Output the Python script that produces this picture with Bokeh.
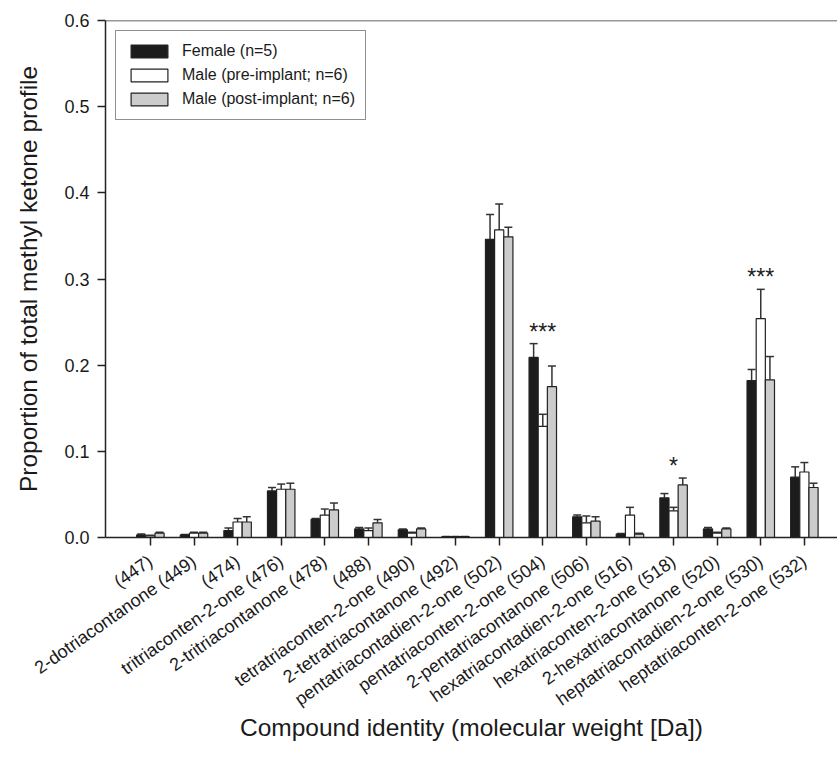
import math
from bokeh.plotting import figure
from bokeh.models import (ColumnDataSource, Whisker, TeeHead, FixedTicker, Span,
                          PrintfTickFormatter)
from bokeh.core.properties import value
from bokeh.embed import file_html
from bokeh.resources import INLINE

compounds = ["(447)", "2-dotriacontanone (449)", "(474)", "tritriaconten-2-one (476)",
             "2-tritriacontanone (478)", "(488)", "tetratriaconten-2-one (490)",
             "2-tetratriacontanone (492)", "pentatriacontadien-2-one (502)",
             "pentatriaconten-2-one (504)", "2-pentatriacontanone (506)",
             "hexatriacontadien-2-one (516)", "hexatriaconten-2-one (518)",
             "2-hexatriacontanone (520)", "heptatriacontadien-2-one (530)",
             "heptatriaconten-2-one (532)"]

female_mean = [0.003, 0.003, 0.008, 0.054, 0.021, 0.010, 0.009, 0.001,
               0.346, 0.209, 0.024, 0.004, 0.046, 0.010, 0.182, 0.070]
female_se = [0.001, 0.0005, 0.003, 0.004, 0.001, 0.0015, 0.001, 0.0003,
             0.029, 0.016, 0.002, 0.0005, 0.005, 0.0015, 0.013, 0.012]

pre_mean = [0.002, 0.005, 0.018, 0.056, 0.026, 0.008, 0.005, 0.001,
            0.357, 0.129, 0.017, 0.026, 0.031, 0.005, 0.254, 0.076]
pre_se = [0.0005, 0.001, 0.004, 0.006, 0.007, 0.003, 0.001, 0.0003,
          0.030, 0.014, 0.008, 0.009, 0.004, 0.001, 0.034, 0.011]

post_mean = [0.005, 0.005, 0.018, 0.056, 0.032, 0.017, 0.010, 0.001,
             0.349, 0.175, 0.019, 0.004, 0.061, 0.010, 0.183, 0.058]
post_se = [0.001, 0.001, 0.006, 0.007, 0.008, 0.004, 0.001, 0.0003,
           0.011, 0.024, 0.005, 0.001, 0.008, 0.001, 0.027, 0.005]

significance = ["", "", "", "", "", "", "", "", "", "***", "", "", "*", "", "***", ""]

series_names = ["Female (n=5)", "Male (pre-implant; n=6)", "Male (post-implant; n=6)"]
y_ticks = [0.0, 0.1, 0.2, 0.3, 0.4, 0.5, 0.6]

FONT = "Liberation Sans"
idx = list(range(len(compounds)))
bar_w = 0.21

p = figure(width=837, height=760, x_range=(-1.03, 15.76), y_range=(0, 0.6),
           output_backend="svg", toolbar_location=None,
           min_border_left=105, min_border_right=0, min_border_top=20,
           min_border_bottom=223)
p.outline_line_color = None
p.grid.visible = False
p.background_fill_color = "white"

styles = [
    (female_mean, female_se, -bar_w, "#1c1c1c"),
    (pre_mean, pre_se, 0.0, "#ffffff"),
    (post_mean, post_se, bar_w, "#cccccc"),
]

for (mean, se, off, col), name in zip(styles, series_names):
    src = ColumnDataSource(dict(
        x=[i + off for i in idx],
        top=mean,
        upper=[m + s for m, s in zip(mean, se)],
    ))
    p.vbar(x="x", top="top", width=bar_w, source=src, fill_color=col,
           line_color="#222222", line_width=1.2, legend_label=name)
    w = Whisker(base="x", upper="upper", lower="top", source=src,
                line_color="#333333", line_width=1.5,
                upper_head=TeeHead(size=8, line_color="#333333", line_width=1.5),
                lower_head=None)
    p.add_layout(w)

# significance markers above the highest error bar of each group
sig_x, sig_y, sig_t = [], [], []
for i, s in enumerate(significance):
    if s:
        sig_x.append(i)
        sig_y.append(max(female_mean[i] + female_se[i], pre_mean[i] + pre_se[i],
                         post_mean[i] + post_se[i]))
        sig_t.append(s)
p.text(x=sig_x, y=sig_y, text=sig_t, text_align="center", text_baseline="middle",
       y_offset=-12, text_font=value(FONT), text_font_size="23px", text_color="#222222")

# top border
p.add_layout(Span(location=0.6, dimension="width", line_color="#333333", line_width=1.5))

# axes
xa = p.xaxis[0]
xa.ticker = FixedTicker(ticks=idx)
xa.major_label_overrides = {i: c for i, c in enumerate(compounds)}
xa.major_label_orientation = math.radians(35)
xa.minor_tick_line_color = None
xa.major_tick_in = 0
xa.major_tick_out = 8
xa.major_label_standoff = 14
xa.axis_label = "Compound identity (molecular weight [Da])"
xa.axis_label_standoff = -7

ya = p.yaxis[0]
ya.ticker = FixedTicker(ticks=y_ticks)
ya.formatter = PrintfTickFormatter(format="%.1f")
ya.minor_tick_line_color = None
ya.major_tick_in = 0
ya.major_tick_out = 8
ya.major_label_standoff = 8
ya.axis_label = "Proportion of total methyl ketone profile"
ya.axis_label_standoff = 19

for ax in (xa, ya):
    ax.axis_line_color = "#222222"
    ax.axis_line_width = 1.5
    ax.major_tick_line_color = "#222222"
    ax.major_tick_line_width = 1.5
    ax.major_label_text_font = FONT
    ax.major_label_text_font_size = "18px"
    ax.major_label_text_color = "#1a1a1a"
    ax.axis_label_text_font = FONT
    ax.axis_label_text_font_size = "24.5px"
    ax.axis_label_text_font_style = "normal"
    ax.axis_label_text_color = "#1a1a1a"

lg = p.legend[0]
lg.location = "top_left"
lg.margin = 10
lg.padding = 10
lg.spacing = 4
lg.glyph_width = 46
lg.glyph_height = 16
lg.label_height = 20
lg.label_standoff = 10
lg.label_text_font = FONT
lg.label_text_font_size = "16px"
lg.label_text_color = "#1a1a1a"
lg.border_line_color = "#222222"
lg.border_line_width = 1.2
lg.background_fill_alpha = 1.0

open("out.html", "w").write(file_html(p, INLINE))
